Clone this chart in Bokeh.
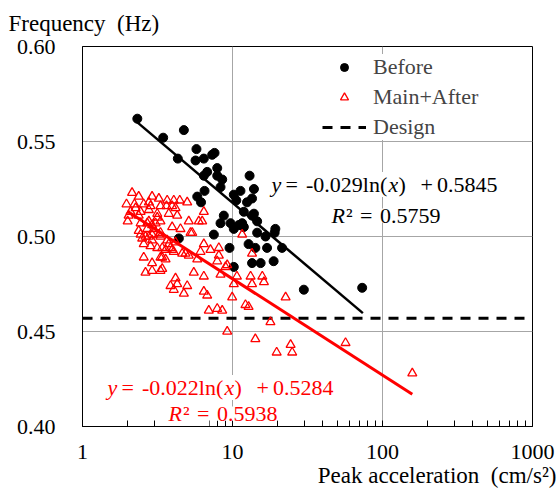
import math
from bokeh.plotting import figure
from bokeh.models import (Range1d, FixedTicker, NumeralTickFormatter, Label,
                          Legend, LegendItem, Title)
from bokeh.embed import file_html
from bokeh.resources import INLINE

# ---------------- data ----------------
before_x = [2.32, 3.45, 4.74, 4.32, 5.75, 5.67, 6.44, 7.59, 7.32, 7.91,
            6.78, 6.44, 8.54, 8.32, 13.0, 13.9, 6.51, 5.82, 6.17, 10.2,
            11.3, 10.6, 13.5, 8.75, 8.32, 11.9, 9.70, 14.6, 19.3, 11.9,
            12.5, 7.51, 10.2, 11.0, 13.5, 14.6, 16.6, 19.1, 12.8, 14.2,
            17.0, 21.4, 9.55, 13.5, 15.4, 18.8, 10.2, 29.9, 73.2, 4.39,
            13.9, 11.6, 7.91]
before_y = [0.562, 0.552, 0.556, 0.541, 0.546, 0.540, 0.541, 0.544, 0.543, 0.536,
            0.534, 0.532, 0.530, 0.526, 0.532, 0.525, 0.524, 0.521, 0.518, 0.522,
            0.524, 0.519, 0.520, 0.511, 0.507, 0.513, 0.507, 0.508, 0.504, 0.505,
            0.518, 0.501, 0.504, 0.506, 0.511, 0.502, 0.500, 0.502, 0.496, 0.494,
            0.494, 0.494, 0.494, 0.486, 0.486, 0.487, 0.484, 0.472, 0.473, 0.499,
            0.512, 0.507, 0.532]

after_x = [2.14, 2.37, 2.91, 3.23, 3.67, 4.06, 4.45, 4.99, 1.965, 2.22,
           2.56, 2.77, 2.84, 3.31, 3.63, 3.96, 4.17, 2.09, 2.44, 2.77,
           3.15, 3.76, 4.28, 6.44, 2.00, 2.44, 2.77, 3.07, 3.31, 5.11,
           5.96, 2.37, 2.70, 2.99, 3.31, 3.96, 4.50, 5.25, 11.6, 2.44,
           2.50, 2.77, 2.91, 3.31, 3.67, 4.17, 2.84, 3.15, 3.58, 3.86,
           4.06, 4.86, 5.11, 6.44, 6.12, 7.13, 8.11, 2.56, 3.40, 3.58,
           5.82, 7.91, 8.98, 2.63, 2.91, 3.31, 5.52, 6.44, 8.32, 10.7,
           13.2, 4.17, 3.86, 4.28, 4.99, 4.06, 4.74, 6.44, 6.78, 10.2,
           13.5, 9.95, 6.95, 7.91, 8.54, 12.2, 12.8, 15.8, 16.2, 22.6,
           17.9, 9.22, 14.2, 24.4, 25.0, 19.7, 56.7, 158.0, 13.5, 8.11,
           9.22, 6.28, 2.26, 2.37, 2.03, 3.15, 2.70, 2.91, 5.39, 2.63,
           2.91, 3.23, 3.76, 2.56, 3.40, 3.96, 4.62, 3.31, 2.91, 3.40]
after_y = [0.523, 0.521, 0.521, 0.520, 0.519, 0.519, 0.519, 0.518, 0.517, 0.517,
           0.517, 0.518, 0.516, 0.516, 0.516, 0.516, 0.515, 0.513, 0.513, 0.514,
           0.512, 0.512, 0.511, 0.513, 0.508, 0.507, 0.508, 0.507, 0.508, 0.508,
           0.508, 0.503, 0.504, 0.504, 0.502, 0.505, 0.504, 0.502, 0.501, 0.501,
           0.499, 0.500, 0.498, 0.500, 0.498, 0.497, 0.495, 0.494, 0.493, 0.494,
           0.492, 0.491, 0.490, 0.496, 0.492, 0.493, 0.494, 0.489, 0.489, 0.488,
           0.488, 0.487, 0.484, 0.481, 0.482, 0.482, 0.481, 0.479, 0.480, 0.479,
           0.479, 0.478, 0.474, 0.475, 0.474, 0.472, 0.470, 0.471, 0.469, 0.475,
           0.475, 0.468, 0.461, 0.462, 0.461, 0.464, 0.463, 0.479, 0.476, 0.468,
           0.455, 0.450, 0.446, 0.443, 0.439, 0.439, 0.444, 0.428, 0.491, 0.490,
           0.485, 0.508, 0.515, 0.511, 0.511, 0.510, 0.507, 0.506, 0.502, 0.500,
           0.501, 0.501, 0.496, 0.496, 0.494, 0.493, 0.491, 0.489, 0.486, 0.483]

# trend lines: y = a*ln(x) + b, drawn over the range of each fitted set
before_fit = (-0.029, 0.5845)
after_fit = (-0.022, 0.5284)
before_fit_x = [2.3, 74.0]
after_fit_x = [2.0, 158.0]
design_freq = 0.457

x_ticks = [1, 10, 100, 1000]
y_ticks = [0.40, 0.45, 0.50, 0.55, 0.60]

# ---------------- figure ----------------
FL, FB = 82, 426          # frame left / bottom in canvas pixels
SERIF = "Liberation Serif"
RED = "#ff0000"

p = figure(width=558, height=500, x_axis_type="log", title=None,
           x_range=Range1d(1, 1000), y_range=Range1d(0.40, 0.60),
           output_backend="svg", toolbar_location=None,
           min_border_left=82, min_border_right=26,
           min_border_top=46, min_border_bottom=74)
p.background_fill_color = "white"
p.border_fill_color = "white"
p.outline_line_color = "black"
p.outline_line_width = 1

minor = [m * d for d in (1, 10, 100) for m in range(2, 10)]
p.xaxis.ticker = FixedTicker(ticks=x_ticks, minor_ticks=minor)
p.yaxis.ticker = FixedTicker(ticks=y_ticks)
p.xaxis.formatter = NumeralTickFormatter(format="0")
p.yaxis.formatter = NumeralTickFormatter(format="0.00")

for ax in (p.xaxis, p.yaxis):
    ax.axis_line_color = "black"
    ax.major_label_text_font = SERIF
    ax.major_label_text_font_size = "22px"
    ax.major_label_text_color = "black"
    ax.major_tick_out = 0
    ax.minor_tick_out = 0
p.xaxis.major_tick_in = 6
p.xaxis.minor_tick_in = 6
p.xaxis.major_tick_line_color = "black"
p.xaxis.minor_tick_line_color = "black"
p.yaxis.major_tick_in = 0
p.yaxis.minor_tick_line_color = None
p.xaxis.major_label_standoff = 18
p.yaxis.major_label_standoff = 27

p.xgrid.grid_line_color = "#a6a6a6"
p.ygrid.grid_line_color = "#a6a6a6"

# axis titles as plot titles placed at the corners
t_top = Title(text="Frequency\u00a0 (Hz)", align="left", offset=-74,
              standoff=18, vertical_align="top", text_font=SERIF,
              text_font_size="23px", text_font_style="normal",
              text_color="black")
p.add_layout(t_top, "above")
t_bot = Title(text="Peak acceleration\u00a0 (cm/s\u00b2)", align="right",
              offset=-24, standoff=3, vertical_align="top", text_font=SERIF,
              text_font_size="23px", text_font_style="normal",
              text_color="black")
p.add_layout(t_bot, "below")

# design line
r_design = p.line([1, 1000], [design_freq, design_freq], line_color="black",
                  line_width=3, line_dash="10 8")

# scatter
r_before = p.scatter(before_x, before_y, marker="circle", size=9,
                     fill_color="black", line_color="black")
r_after = p.scatter(after_x, after_y, marker="triangle", size=9,
                    fill_color=None, line_color=RED, line_width=1.3)

# trend lines
bf_y = [before_fit[0] * math.log(v) + before_fit[1] for v in before_fit_x]
af_y = [after_fit[0] * math.log(v) + after_fit[1] for v in after_fit_x]
p.line(before_fit_x, bf_y, line_color="black", line_width=2.5)
p.line(after_fit_x, af_y, line_color=RED, line_width=3)

# legend
legend = Legend(items=[LegendItem(label="Before", renderers=[r_before]),
                       LegendItem(label="Main+After", renderers=[r_after]),
                       LegendItem(label="Design", renderers=[r_design])],
                location=(240, 286), orientation="vertical",
                label_text_font=SERIF, label_text_font_size="22px",
                glyph_width=44, glyph_height=20, label_standoff=7,
                spacing=4, padding=0, margin=0,
                border_line_color=None, background_fill_color="white",
                background_fill_alpha=1.0)
p.add_layout(legend)


def put(text, cx, cy, color="black", italic=False):
    lab = Label(x=cx - FL, y=FB - cy, x_units="screen", y_units="screen",
                text=text, text_font=SERIF, text_font_size="22px",
                text_font_style="italic" if italic else "normal",
                text_color=color, text_baseline="alphabetic",
                text_align="left", background_fill_color="white")
    p.add_layout(lab)


# black equation
put("y", 271, 184, italic=True)
put("=", 285, 184)
put("-0.029ln(", 305.5, 184)
put("x", 388, 184, italic=True)
put(")", 398, 184)
put("+", 420, 184)
put("0.5845", 436.5, 184)
put("R", 331, 215, italic=True)
put("\u00b2", 345.5, 215)
put("=", 359.5, 215)
put("0.5759", 379.5, 215)

# red equation
put("y", 107, 387, RED, italic=True)
put("=", 121, 387, RED)
put("-0.022ln(", 141.5, 387, RED)
put("x", 224, 387, RED, italic=True)
put(")", 234, 387, RED)
put("+", 256, 387, RED)
put("0.5284", 272.5, 387, RED)
put("R", 168, 413, RED, italic=True)
put("\u00b2", 182.5, 413, RED)
put("=", 196.5, 413, RED)
put("0.5938", 216.5, 413, RED)

open("out.html", "w").write(file_html(p, INLINE))
